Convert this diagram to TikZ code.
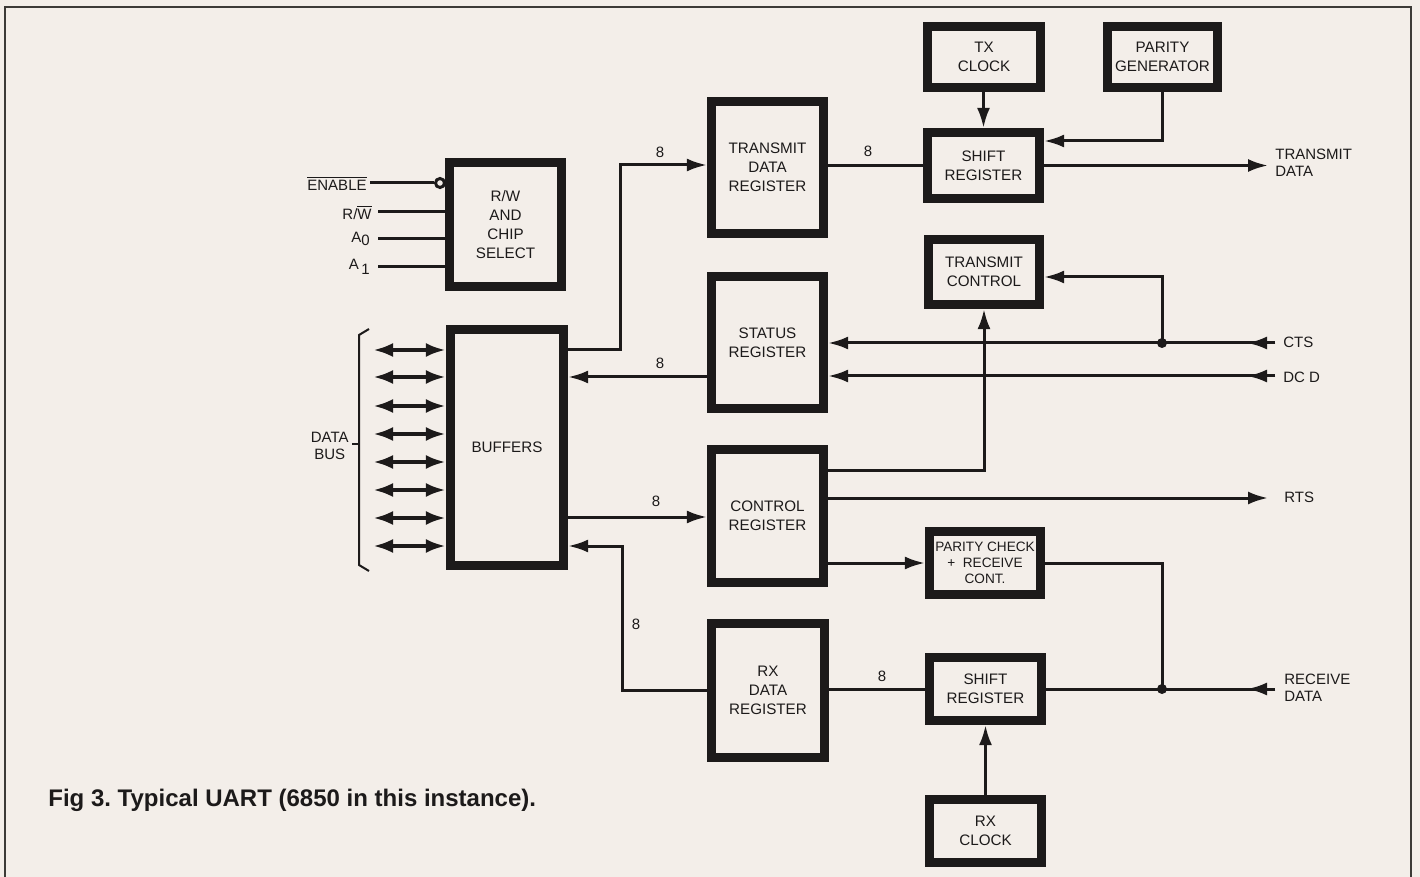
\documentclass[tikz,border=0pt]{standalone}
\usepackage{fontspec}
\setmainfont{Liberation Sans}
\usetikzlibrary{arrows.meta,calc}
\definecolor{bg}{RGB}{243,238,233}
\definecolor{ink}{RGB}{28,26,26}
\definecolor{framec}{RGB}{60,58,55}
\frenchspacing
\begin{document}
\begin{tikzpicture}[x=0.5pt,y=-0.5pt,
  blk/.style={draw=ink,line width=4.6pt,fill=bg,align=center,inner sep=0pt,text=ink,
    font=\fontsize{7.6}{9.4}\selectfont},
  conn/.style={draw=ink,line width=1.5pt},
  arr/.style={conn,-{Latex[length=10pt,width=6.5pt]}},
  bus/.style={draw=ink,line width=2pt,{Latex[length=10pt,width=7pt]}-{Latex[length=10pt,width=7pt]}},
  lbl/.style={text=ink,inner sep=0pt,font=\fontsize{7.5}{8.6}\selectfont,align=left},
  num/.style={text=ink,inner sep=0pt,font=\fontsize{7.5}{9}\selectfont},
  jdot/.style={circle,fill=ink,inner sep=0pt,minimum size=5pt}]
\fill[bg] (0,0) rectangle (1420,877);
\useasboundingbox (0,0) rectangle (1420,877);
\draw[framec,line width=1.2pt] (5,880) -- (5,7) -- (1411,7) -- (1411,880);

% blocks
\node[blk,minimum width=56pt,minimum height=62pt] (rw) at (505.5,224.5) {R/W\\AND\\CHIP\\SELECT};
\node[blk,minimum width=56.5pt,minimum height=118pt] (buf) at (507,447.5) {BUFFERS};
\node[blk,minimum width=56pt,minimum height=66pt] (tdr) at (767.5,167.5) {TRANSMIT\\DATA\\REGISTER};
\node[blk,minimum width=56pt,minimum height=66pt] (status) at (767.5,342.5) {STATUS\\REGISTER};
\node[blk,minimum width=56pt,minimum height=66.5pt] (ctrl) at (767.5,516) {CONTROL\\REGISTER};
\node[blk,minimum width=56.5pt,minimum height=67pt] (rxd) at (768,690.5) {RX\\DATA\\REGISTER};
\node[blk,minimum width=56.5pt,minimum height=30.5pt] (txclk) at (984,57) {TX\\CLOCK};
\node[blk,minimum width=55pt,minimum height=30.5pt] (pgen) at (1162.5,57) {PARITY\\GENERATOR};
\node[blk,minimum width=56pt,minimum height=33pt] (txsr) at (983.5,165.5) {SHIFT\\REGISTER};
\node[blk,minimum width=55.5pt,minimum height=32.5pt] (txctl) at (984,272) {TRANSMIT\\CONTROL};
\node[blk,minimum width=55.5pt,minimum height=31.5pt,font=\fontsize{6.8}{8}\selectfont] (pchk) at (985,563) {PARITY CHECK\\+ \ RECEIVE\\CONT.};
\node[blk,minimum width=56pt,minimum height=31.5pt] (rxsr) at (985.5,689) {SHIFT\\REGISTER};
\node[blk,minimum width=56pt,minimum height=31.5pt] (rxclk) at (985.5,831) {RX\\CLOCK};

% chip select inputs
\node[lbl,anchor=east] (en) at (367,183) {$\overline{\mbox{ENABLE}}$};
\node[lbl,anchor=east] (rwl) at (372,212) {R/$\overline{\mbox{W}}$};
\node[lbl,anchor=east] (a0) at (370,239) {A\raisebox{-1.8pt}{0}};
\node[lbl,anchor=east] (a1) at (370,267) {A\,\raisebox{-2.2pt}{1}};
\node[circle,draw=ink,line width=1.5pt,fill=bg,inner sep=0pt,minimum size=4.5pt] (bub) at (440,183) {};
\draw[conn] (en.east) ++(3,0) -- (bub.west);
\draw[conn] (rwl.east) ++(6,0) -- (rw.west|-rwl.east);
\draw[conn] (a0.east) ++(8,0) -- (rw.west|-a0.east);
\draw[conn] (a1.east) ++(8,0) -- (rw.west|-a1.east);

% data bus
\foreach \yy in {350,377,406,434,462,490,518,546}{
  \draw[bus] (373,\yy) -- (buf.west|-0,\yy);
}
\coordinate (brt) at (369,329);
\coordinate (brb) at (369,571);
\draw[ink,line width=1pt] (brt) -- (359,335) -- (359,565) -- (brb);
\draw[ink,line width=1pt] (359,444) -- (352,444);
\node[lbl,align=center,anchor=east] (db) at (349,446) {DATA\\BUS};

% buffers <-> registers
\draw[arr] (buf.east|-0,350) -- (620,350) |- (tdr.west|-0,165);
\node[num] (n1) at (660,152) {8};
\draw[arr] (status.west|-0,377) -- (buf.east|-0,377);
\node[num] (n2) at (660,363) {8};
\draw[arr] (buf.east|-0,517) -- (ctrl.west|-0,517);
\node[num] (n3) at (656,501) {8};
\draw[arr] (rxd.west) -- (622,690.5) |- (buf.east|-0,546);
\node[num] (n4) at (636,624) {8};

% transmit side
\draw[conn] (tdr.east|-txsr.west) -- (txsr.west);
\node[num] (n5) at (868,151) {8};
\draw[arr] (txclk.south-|txsr.north) -- (txsr.north);
\draw[arr] (pgen.south) |- (txsr.east|-0,141);
\coordinate (tdo) at (1268,165.5);
\draw[arr] (txsr.east) -- (tdo);
\node[lbl,anchor=west] (tdl) at (1275,163) {TRANSMIT\\DATA};

% CTS / DCD
\coordinate (ctsin) at (1275,343);
\draw[arr] (ctsin) -- (status.east|-ctsin);
\draw[arr] (ctsin) -- ++(-28,0);
\node[lbl,anchor=west] (ctsl) at (1283,342) {CTS};
\node[jdot] (j1) at (1162,343) {};
\draw[arr] (j1.center) -- (1162,277) -- (txctl.east|-0,277);
\coordinate (dcdin) at (1275,376);
\draw[arr] (dcdin) -- (status.east|-dcdin);
\draw[arr] (dcdin) -- ++(-28,0);
\node[lbl,anchor=west] (dcdl) at (1283,377) {DC D};

% control register outputs
\draw[arr] (ctrl.east|-0,470) -| (txctl.south);
\coordinate (rtso) at (1268,498);
\draw[arr] (ctrl.east|-0,498) -- (rtso);
\node[lbl,anchor=west] (rtsl) at (1284,497) {RTS};
\draw[arr] (ctrl.east|-pchk.west) -- (pchk.west);

% receive side
\node[jdot] (j2) at (1162,689) {};
\draw[conn] (pchk.east) -| (j2.center);
\coordinate (rxin) at (1275,689);
\draw[conn] (rxin) -- (rxsr.east);
\draw[arr] (rxin) -- ++(-28,0);
\node[lbl,anchor=west] (rdl) at (1284,688) {RECEIVE\\DATA};
\draw[conn] (rxsr.west) -- (rxd.east|-rxsr.west);
\node[num] (n6) at (882,676) {8};
\draw[arr] (rxclk.north) -- (rxsr.south);

% caption
\node[anchor=west,inner sep=0pt,text=ink,font=\bfseries\fontsize{12}{14}\selectfont] (cap) at (48,800) {Fig 3. Typical UART (6850 in this instance).};
\end{tikzpicture}
\end{document}
